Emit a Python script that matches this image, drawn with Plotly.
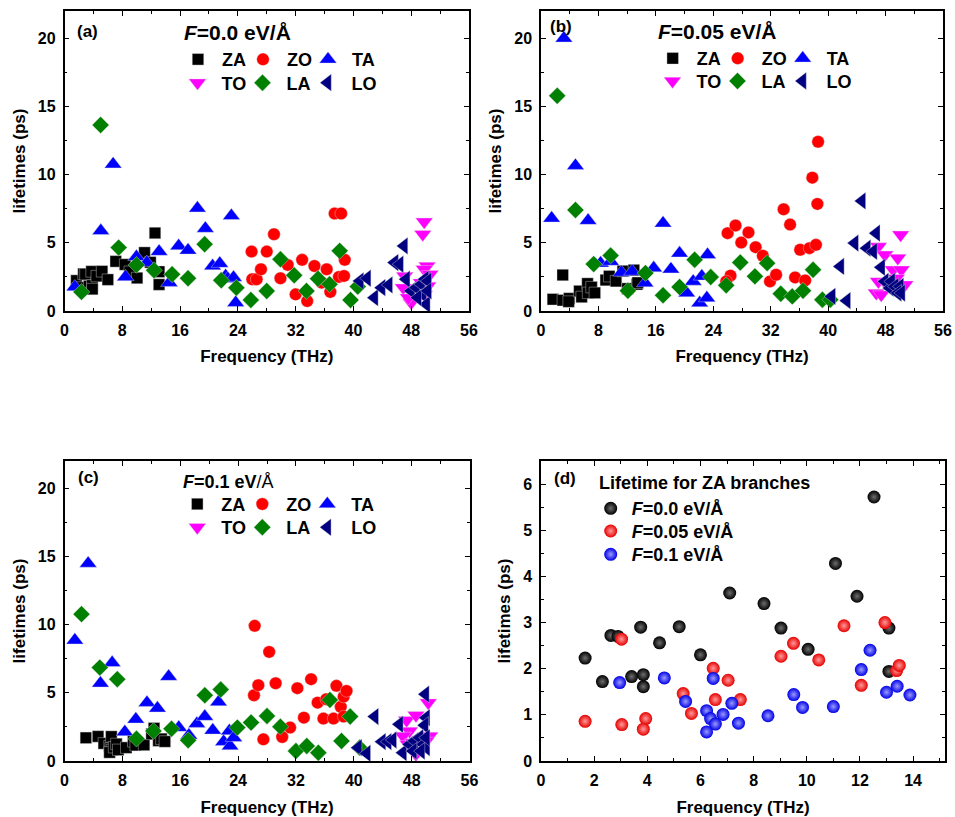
import plotly.graph_objects as go

FONT = "Liberation Sans"
W, H = 955, 817

# ---- ZA-branch lifetimes (ps) vs frequency (THz) for the three field strengths ----
za0_f = [1.66, 2.31, 2.63, 2.9, 3.41, 3.75, 3.85, 3.85, 4.46, 5.2, 6.0, 7.1, 8.39, 9.03,
         10.05, 11.08, 11.89, 12.53, 13.09, 13.09]
za0_t = [2.23, 1.72, 2.72, 2.70, 1.83, 2.90, 1.87, 1.61, 2.56, 2.91, 2.30, 3.64, 3.41, 2.88,
         2.42, 4.28, 3.57, 5.72, 2.88, 1.94]

za05_f = [1.66, 3.03, 3.04, 3.94, 3.85, 5.35, 5.66, 6.48, 6.56, 7.04, 7.5, 9.03, 9.5, 10.45,
          11.4, 12.05, 12.94, 13.38, 13.48]
za05_t = [0.86, 2.64, 0.79, 0.92, 0.69, 1.46, 1.03, 2.01, 1.33, 1.75, 1.33, 2.27, 2.55, 2.19,
          2.93, 1.64, 3.0, 1.96, 2.07]

za1_f = [2.96, 4.64, 5.44, 6.23, 6.38, 6.56, 6.23, 6.48, 6.85, 7.18, 7.43, 8.54, 9.51, 9.84,
         11.0, 12.05, 12.38, 13.0, 13.4, 13.88]
za1_t = [1.70, 1.80, 1.29, 1.09, 0.92, 0.80, 0.63, 1.79, 1.01, 1.25, 0.82, 0.98, 1.44, 1.16,
         1.18, 1.98, 2.40, 1.49, 1.62, 1.43]

# ---- F = 0.0 eV/Å ----
a_ZO_f = [25.9, 26.0, 26.6, 27.2, 28.0, 29.0, 29.9, 30.9, 32.0, 32.9, 33.6, 34.6, 35.6, 36.3,
          36.8, 37.4, 38.3, 38.0, 38.7, 38.8]
a_ZO_t = [4.36, 2.33, 2.33, 3.06, 4.36, 5.63, 2.40, 3.38, 1.22, 3.75, 0.73, 3.30, 2.08, 3.06,
          1.40, 7.15, 7.15, 2.50, 2.57, 3.75]
a_TA_f = [1.43, 5.03, 6.73, 8.44, 9.96, 11.4, 13.1, 14.5, 15.8, 17.1, 18.4, 19.5, 20.5, 21.5,
          22.3, 23.1, 22.6, 23.4, 23.7]
a_TA_t = [1.76, 5.88, 10.77, 2.50, 3.97, 3.55, 4.36, 2.08, 4.77, 4.45, 7.54, 6.05, 3.30, 3.48,
          2.57, 6.98, 2.37, 2.45, 0.61]
a_TO_f = [49.8, 49.6, 50.2, 49.8, 47.1, 46.9, 48.0, 47.6, 49.4, 50.3, 50.6, 49.8]
a_TO_t = [6.54, 5.63, 3.30, 3.06, 2.57, 1.71, 0.61, 0.98, 2.08, 1.84, 2.69, 1.2]
a_LA_f = [2.35, 5.0, 7.5, 9.96, 12.4, 14.9, 17.1, 19.4, 21.7, 23.8, 25.8, 28.0, 29.9, 31.8,
          33.5, 35.1, 36.7, 38.1, 39.6, 40.6]
a_LA_t = [1.40, 13.64, 4.65, 3.38, 2.99, 2.69, 2.40, 4.90, 2.25, 1.71, 0.81, 1.47, 3.79, 2.62,
          1.47, 2.37, 1.96, 4.41, 0.81, 1.79]
a_LO_f = [40.9, 41.9, 42.9, 43.9, 44.9, 45.7, 46.4, 47.0, 47.3, 48.0, 48.7, 49.4, 49.9, 50.3,
          49.6, 50.1, 48.9, 50.3]
a_LO_t = [2.20, 2.40, 0.98, 1.71, 1.91, 3.55, 3.43, 4.77, 2.33, 1.47, 1.71, 1.96, 2.33, 2.20,
          1.22, 0.49, 0.98, 1.47]

# ---- F = 0.05 eV/Å ----
b_ZO_f = [26.0, 26.4, 25.8, 27.1, 27.9, 28.9, 29.9, 30.9, 31.9, 32.75, 33.8, 34.7, 35.4, 36.1,
          36.8, 37.4, 38.3, 37.8, 38.6, 38.5]
b_ZO_t = [5.71, 2.59, 2.17, 6.27, 5.02, 5.76, 4.68, 4.05, 2.17, 2.66, 7.46, 6.34, 2.46, 4.49,
          2.24, 4.61, 4.85, 9.78, 12.41, 7.85]
b_TA_f = [1.48, 3.19, 4.8, 6.56, 8.3, 9.7, 11.2, 12.7, 14.5, 15.7, 17.0, 18.1, 19.3, 20.3,
          21.2, 22.1, 22.4, 23.2, 23.1]
b_TA_t = [6.80, 20.0, 10.66, 6.63, 3.5, 3.63, 2.83, 2.90, 2.05, 3.15, 6.44, 3.07, 4.24, 1.32,
          2.17, 0.59, 2.54, 4.12, 0.95]
b_TO_f = [50.1, 47.0, 47.9, 49.7, 49.05, 50.2, 47.0, 48.0, 46.7, 47.4, 50.7, 49.5]
b_TO_t = [5.59, 4.73, 4.12, 3.88, 3.02, 3.02, 2.17, 2.05, 1.32, 1.20, 1.93, 2.4]
b_LA_f = [2.26, 4.8, 7.34, 9.7, 12.1, 14.55, 17.0, 19.3, 21.4, 23.65, 25.8, 27.76, 29.8, 31.5,
          33.4, 35.0, 36.5, 37.9, 39.2, 40.3]
b_LA_t = [15.78, 7.41, 3.44, 4.07, 1.49, 2.78, 1.15, 1.76, 3.76, 2.49, 1.88, 3.56, 2.54, 3.51,
          1.27, 1.07, 1.49, 3.02, 0.83, 0.83]
b_LO_f = [40.5, 41.7, 42.6, 43.7, 44.7, 45.4, 46.3, 46.7, 47.4, 47.9, 48.6, 48.8, 49.3, 50.0,
          49.7, 50.2]
b_LO_t = [1.07, 3.27, 0.76, 4.98, 8.07, 4.61, 4.37, 5.71, 3.2, 2.17, 1.68, 2.17, 1.80, 1.80,
          1.32, 1.32]

# ---- F = 0.1 eV/Å ----
c_ZO_f = [26.3, 28.3, 26.2, 26.8, 29.2, 27.5, 30.1, 31.2, 32.2, 33.1, 34.1, 35.0, 35.8, 37.2,
          37.6, 38.2, 38.6, 39.0, 38.6, 36.2]
c_ZO_t = [9.91, 8.0, 4.82, 5.56, 5.70, 1.59, 1.76, 2.45, 5.34, 3.18, 6.0, 4.28, 3.11, 3.11,
          5.51, 3.97, 4.72, 5.14, 3.26, 4.53]
c_TA_f = [1.43, 3.27, 4.97, 6.59, 8.34, 9.86, 11.4, 12.85, 14.4, 15.8, 17.2, 18.3, 19.4, 20.5,
          21.3, 22.0, 22.8, 22.9, 23.4]
c_TA_t = [8.86, 14.49, 5.70, 7.20, 2.13, 3.06, 4.28, 3.87, 6.19, 2.45, 1.88, 2.74, 3.26, 2.25,
          4.33, 1.42, 2.2, 1.10, 1.71]
c_TO_f = [50.3, 47.3, 48.6, 47.7, 46.8, 47.5, 50.5, 48.2, 50.0, 48.6]
c_TO_t = [4.28, 2.99, 3.35, 2.2, 1.84, 1.22, 1.84, 1.35, 1.47, 0.49]
c_LA_f = [2.35, 4.88, 7.3, 9.95, 12.3, 14.8, 17.1, 19.4, 21.6, 23.9, 25.8, 28.0, 29.85, 32.0,
          33.5, 35.1, 36.7, 38.3, 39.5, 40.8]
c_LA_t = [10.77, 6.85, 6.0, 1.64, 2.20, 2.37, 1.52, 4.82, 5.24, 2.45, 2.82, 3.30, 2.52, 0.73,
          1.10, 0.61, 4.48, 1.47, 3.26, 0.98]
c_LO_f = [40.6, 41.8, 42.9, 43.9, 44.7, 45.4, 46.3, 49.9, 50.0, 49.8, 46.8, 47.7, 48.4, 49.1,
          49.6, 50.0, 48.2, 49.3, 50.0]
c_LO_t = [0.98, 0.56, 3.26, 1.42, 1.42, 1.54, 2.69, 4.90, 3.18, 2.62, 0.61, 1.22, 1.47, 1.71,
          1.22, 0.98, 0.73, 0.73, 1.71]

branches = ["ZA", "ZO", "TA", "TO", "LA", "LO"]
colors = {"ZA": "#000000", "ZO": "#ff0000", "TA": "#0000ff",
          "TO": "#ff00ff", "LA": "#008000", "LO": "#000080"}
symbols = {"ZA": "square", "ZO": "circle", "TA": "triangle-up",
           "TO": "triangle-down", "LA": "diamond", "LO": "triangle-left"}
sizes = {"ZA": 11.5, "ZO": 12.5, "TA": 15, "TO": 15, "LA": 13, "LO": 15}

panels = [
    ("x", "y", ("legend", "legend2"),
     {"ZA": (za0_f, za0_t), "ZO": (a_ZO_f, a_ZO_t), "TA": (a_TA_f, a_TA_t),
      "TO": (a_TO_f, a_TO_t), "LA": (a_LA_f, a_LA_t), "LO": (a_LO_f, a_LO_t)}),
    ("x2", "y2", ("legend3", "legend4"),
     {"ZA": (za05_f, za05_t), "ZO": (b_ZO_f, b_ZO_t), "TA": (b_TA_f, b_TA_t),
      "TO": (b_TO_f, b_TO_t), "LA": (b_LA_f, b_LA_t), "LO": (b_LO_f, b_LO_t)}),
    ("x3", "y3", ("legend5", "legend6"),
     {"ZA": (za1_f, za1_t), "ZO": (c_ZO_f, c_ZO_t), "TA": (c_TA_f, c_TA_t),
      "TO": (c_TO_f, c_TO_t), "LA": (c_LA_f, c_LA_t), "LO": (c_LO_f, c_LO_t)}),
]

fig = go.Figure()
for xa, ya, legs, data in panels:
    for i, b in enumerate(branches):
        f, t = data[b]
        fig.add_trace(go.Scatter(
            x=f, y=t, mode="markers", name=b, xaxis=xa, yaxis=ya,
            legend=legs[0] if i < 3 else legs[1], cliponaxis=False,
            # the last entry of each legend row gets room for its full label
            legendwidth=30 if i in (2, 5) else 12,
            marker=dict(symbol=symbols[b], color=colors[b], size=sizes[b],
                        line=dict(width=0.4, color="#dddddd"))))

# shaded spheres for the ZA comparison panel
za_sets = [
    (za0_f, za0_t, "#000000", "#6e6e6e", "<i>F</i>=0.0 eV/Å", "legend7"),
    (za05_f, za05_t, "#e60000", "#ff9a9a", "<i>F</i>=0.05 eV/Å", "legend8"),
    (za1_f, za1_t, "#0000e6", "#9a9aff", "<i>F</i>=0.1 eV/Å", "legend9"),
]
for f, t, c, g, name, leg in za_sets:
    fig.add_trace(go.Scatter(
        x=f, y=t, mode="markers", name=name, xaxis="x4", yaxis="y4", legend=leg,
        cliponaxis=False,
        marker=dict(size=13, color=c, gradient=dict(type="radial", color=g),
                    line=dict(width=0))))


def px_x(p):
    return p / W


def px_y(p):
    return 1 - p / H


def axis(rng, dtick, mdtick, domain, anchor, title, standoff):
    return dict(
        range=rng, domain=domain, anchor=anchor, tick0=0, dtick=dtick,
        ticks="inside", ticklen=5, tickwidth=1.2, tickcolor="black",
        minor=dict(ticks="inside", ticklen=3, tickwidth=1, tickcolor="black",
                   tick0=0, dtick=mdtick, showgrid=False),
        showline=True, linewidth=1.5, linecolor="black", mirror="ticks",
        showgrid=False, zeroline=False, ticklabelstandoff=4,
        tickfont=dict(family=FONT, size=16, color="black", weight="bold"),
        title=dict(text=title, standoff=standoff,
                   font=dict(family=FONT, size=17, color="black", weight="bold")))


xa_dom = [px_x(64.5), px_x(469)]
xb_dom = [px_x(541), px_x(943)]
xc_dom = [px_x(64.5), px_x(469.5)]
xd_dom = [px_x(541), px_x(945)]
top_dom = [px_y(311), px_y(11)]
bot_dom = [px_y(761), px_y(461)]

FT = "Frequency (THz)"
LT = "lifetimes (ps)"
fig.update_layout(
    xaxis=axis([0, 56], 8, 4, xa_dom, "y", FT, 12),
    yaxis=axis([0, 22], 5, 2.5, top_dom, "x", LT, 8),
    xaxis2=axis([0, 56], 8, 4, xb_dom, "y2", FT, 12),
    yaxis2=axis([0, 22], 5, 2.5, top_dom, "x2", LT, 8),
    xaxis3=axis([0, 56], 8, 4, xc_dom, "y3", FT, 14),
    yaxis3=axis([0, 22], 5, 2.5, bot_dom, "x3", LT, 8),
    xaxis4=axis([0, 15.2], 2, 1, xd_dom, "y4", FT, 14),
    yaxis4=axis([0, 6.5], 1, 0.5, bot_dom, "x4", LT, 8),
)


def legend_at(sym_x, row_y, size=18, itemw=38):
    # sym_x: pixel centre of the first symbol, row_y: pixel centre of the row
    sym_off = (itemw + 10) / 2
    return dict(x=px_x(sym_x - sym_off), y=px_y(row_y - (5 + (size * 1.3 + 3) / 2)),
                xanchor="left", yanchor="top", orientation="h", itemwidth=itemw,
                bgcolor="rgba(0,0,0,0)", borderwidth=0, itemclick=False,
                itemdoubleclick=False,
                font=dict(family=FONT, size=size, color="black", weight="bold"))


fig.update_layout(
    legend=legend_at(198, 59.3), legend2=legend_at(197.5, 82.7),
    legend3=legend_at(672.7, 58.3), legend4=legend_at(672.5, 81),
    legend5=legend_at(197.3, 504), legend6=legend_at(197.3, 527.3),
    legend7=legend_at(610.7, 508.3, itemw=32),
    legend8=legend_at(610.7, 531, itemw=32),
    legend9=legend_at(610.7, 554.3, itemw=32),
)


def label(text, x, y, size):
    return dict(text=text, x=px_x(x), y=px_y(y), xref="paper", yref="paper",
                xanchor="left", yanchor="middle", showarrow=False,
                font=dict(family=FONT, size=size, color="black"))


fig.update_layout(annotations=[
    label("<b>(a)</b>", 75, 32, 17),
    label("<b><i>F</i>=0.0 eV/Å</b>", 181.7, 32.5, 21),
    label("<b>(b)</b>", 548, 26, 17),
    label("<b><i>F</i>=0.05 eV/Å</b>", 656, 31.7, 21),
    label("<b>(c)</b>", 76, 477, 17),
    label("<b><i>F</i>=0.1 eV</b>/Å", 180.7, 481.7, 18),
    label("<b>(d)</b>", 551.7, 478, 17),
    label("<b>Lifetime for ZA branches</b>", 597.3, 483.3, 18),
])

fig.update_layout(
    width=W, height=H, autosize=False, template="none",
    margin=dict(l=0, r=0, t=0, b=0, pad=0),
    paper_bgcolor="white", plot_bgcolor="white",
    font=dict(family=FONT, color="black"),
    showlegend=True,
)

fig.write_html("out.html")
